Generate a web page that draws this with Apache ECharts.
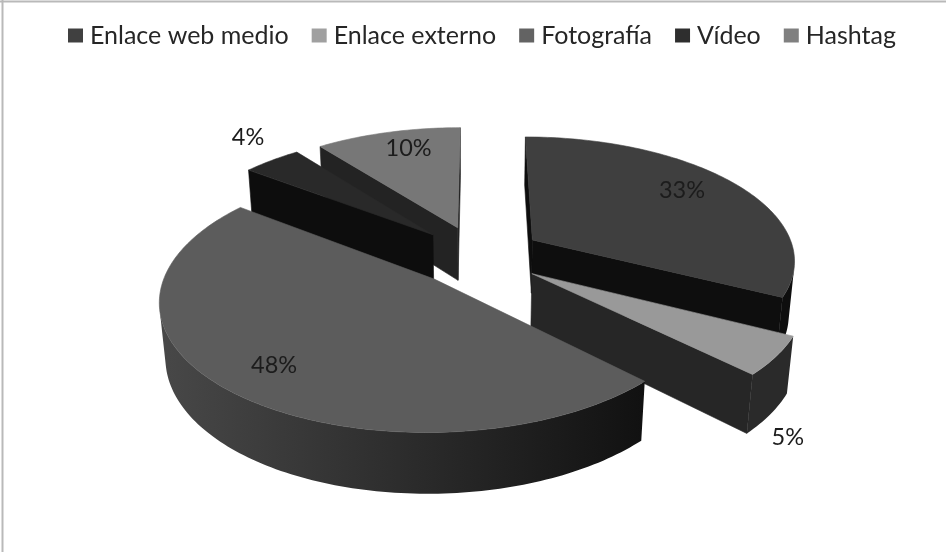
<!DOCTYPE html>
<html><head><meta charset="utf-8">
<style>html,body{margin:0;padding:0;background:#fff}#c{width:946px;height:552px}</style>
<script src="https://cdn.jsdelivr.net/npm/echarts@6/dist/echarts.min.js"></script>
</head><body><div id="c"></div>
<script>
// ---- data ----
const categories = ['Enlace web medio', 'Enlace externo', 'Fotografía', 'Vídeo', 'Hashtag'];
const shares = [32.5, 4.9, 47.9, 4.21, 10.49];
// ---- styles ----
const topColors = ['#3f3f3f', '#999999', '#5c5c5c', '#292929', '#777777'];
const legendColors = ['#404040', '#a0a0a0', '#636363', '#2e2e2e', '#808080'];
const faceColors = ['#0e0e0e', '#262626', '#141414', '#0d0d0d', '#232323'];
const wallColors = [['#0e0e0e', '#0e0e0e'], ['#2a2a2a', '#2a2a2a'], ['#111111', '#484848'], ['#0d0d0d', '#0d0d0d'], ['#232323', '#232323']];
const drawOrder = [4, 3, 0, 1, 2];
const labelSpan = [0.468, 1.553, 0.501, 0.752, 0.57];
const labelRadius = [0.773, 1.313, 0.796, 1.276, 0.798];
// ---- projection ----
const CX = 478, CY = 255.5, R = 263, EXPLODE = 65, H = 62;
const SIN_T = 0.4665, COS_T = 0.8845, CAM = 1558;
function project(X, Z, Y) {
  const d = 1 - (Z * COS_T + Y * SIN_T) / CAM;
  return [CX + X / d, CY + (Z * SIN_T - Y * COS_T) / d];
}
const total = shares.reduce((a, b) => a + b, 0);
const startAngles = [];
shares.reduce((acc, v, i) => { startAngles[i] = acc; return acc + v / total * 2 * Math.PI; }, 0);
function area(pts) {
  let s = 0;
  pts.forEach((p, i) => { const q = pts[(i + 1) % pts.length]; s += p[0] * q[1] - q[0] * p[1]; });
  return s;
}
function poly(points, fill) {
  return { type: 'polygon', shape: { points }, style: { fill, stroke: typeof fill === 'string' ? fill : 'none', lineWidth: 0.6 } };
}
function buildSlice(i) {
  const a0 = startAngles[i], span = shares[i] / total * 2 * Math.PI, a1 = a0 + span;
  const mid = a0 + span / 2;
  const ox = EXPLODE * Math.sin(mid), oz = -EXPLODE * Math.cos(mid);
  const P = (a, r, y) => project(ox + r * Math.sin(a), oz - r * Math.cos(a), y);
  const steps = Math.max(8, Math.ceil(span / 0.02));
  const children = [];
  const apexT = P(0, 0, 0), apexB = P(0, 0, -H);
  const f1 = [apexT, P(a0, R, 0), P(a0, R, -H), apexB];
  const f2 = [P(a1, R, 0), apexT, apexB, P(a1, R, -H)];
  [f1, f2].forEach(f => { if (area(f) < 0) children.push(poly(f, faceColors[i])); });
  const rim = [];
  for (let k = 0; k <= steps; k++) rim.push(a0 + span * k / steps);
  // visible stretch of the outer wall, drawn as one shape
  const upper = [], lower = [];
  for (let k = 0; k < steps; k++) {
    const q = [P(rim[k], R, 0), P(rim[k + 1], R, 0), P(rim[k + 1], R, -H), P(rim[k], R, -H)];
    if (area(q) < 0) {
      if (!upper.length) { upper.push(q[0]); lower.push(q[3]); }
      upper.push(q[1]); lower.push(q[2]);
    }
  }
  if (upper.length) {
    const xs = upper.map(p => p[0]);
    const fill = {
      type: 'linear', global: true,
      x: Math.max(...xs), y: 0, x2: Math.min(...xs), y2: 0,
      colorStops: [{ offset: 0, color: wallColors[i][0] }, { offset: 1, color: wallColors[i][1] }]
    };
    children.push(poly(upper.concat(lower.reverse()), fill));
  }
  const top = [apexT].concat(rim.map(a => P(a, R, 0)));
  children.push(poly(top, topColors[i]));
  const [lx, ly] = P(a0 + span * labelSpan[i], R * labelRadius[i], 0);
  children.push({
    type: 'text', z2: 50,
    style: { x: lx, y: ly, text: Math.round(shares[i] / total * 100) + '%', fill: '#1c1c1c', font: '23.5px Lato, sans-serif', align: 'center', verticalAlign: 'middle' }
  });
  return { type: 'group', children };
}
const chart = echarts.init(document.getElementById('c'), null, { renderer: 'canvas' });
chart.setOption({
  animation: false,
  backgroundColor: '#ffffff',
  legend: {
    data: categories, top: 18, left: 63, icon: 'rect',
    itemWidth: 15, itemHeight: 14, itemGap: 23,
    textStyle: { fontFamily: 'Lato, sans-serif', fontSize: 25, color: '#262626', padding: [0, 0, 0, 2] }
  },
  graphic: [
    { type: 'line', shape: { x1: 0, y1: 1.5, x2: 946, y2: 1.5 }, silent: true, style: { stroke: '#b9b9b9', lineWidth: 2 } },
    { type: 'line', shape: { x1: 2.5, y1: 0, x2: 2.5, y2: 552 }, silent: true, style: { stroke: '#b9b9b9', lineWidth: 2 } }
  ],
  series: categories.map((name, i) => ({
    type: 'custom', name, coordinateSystem: 'none',
    z: 2 + drawOrder.indexOf(i),
    itemStyle: { color: legendColors[i] },
    data: [shares[i]],
    renderItem: () => buildSlice(i)
  }))
});
</script></body></html>
